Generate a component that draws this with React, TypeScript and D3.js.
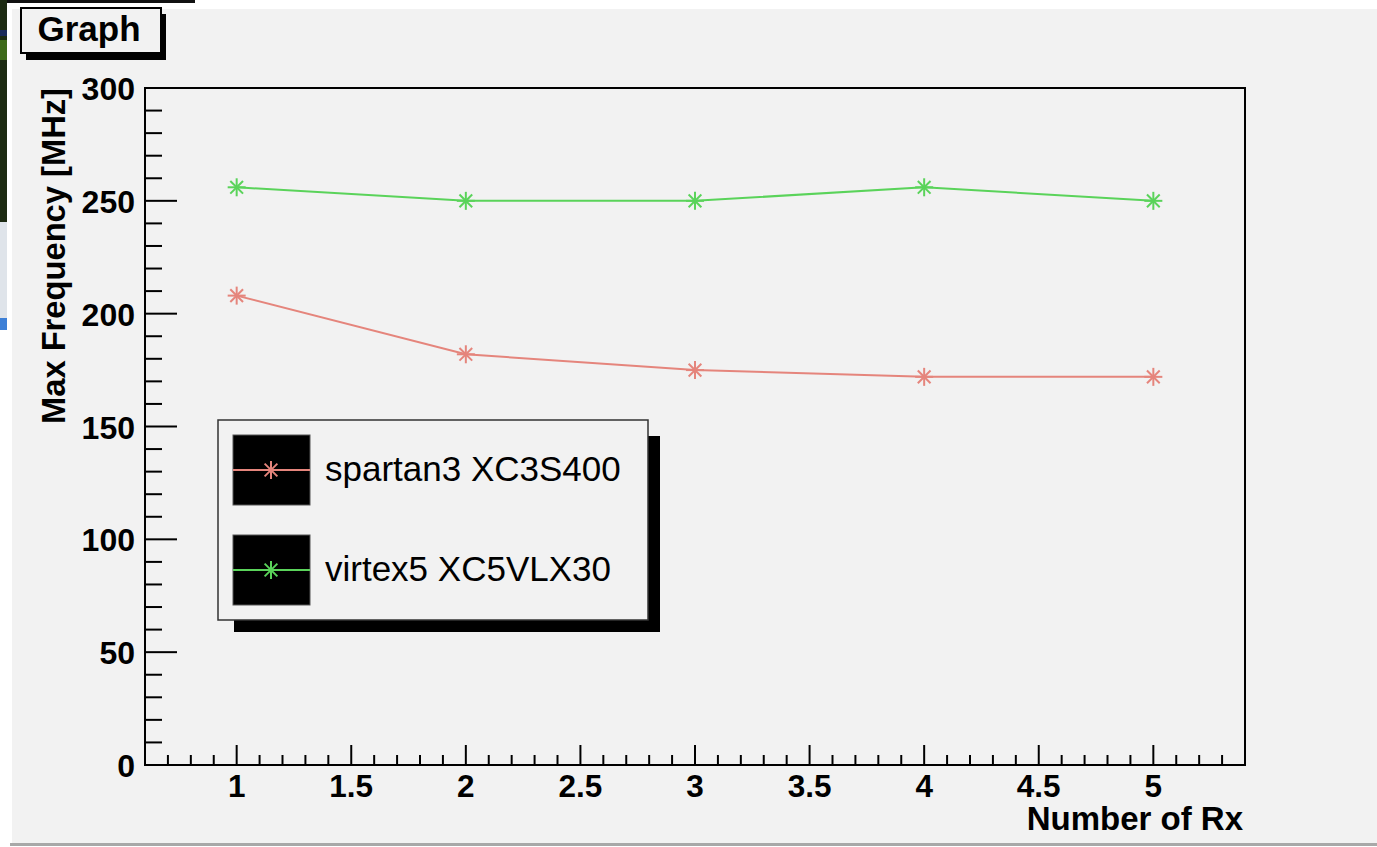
import React from "react";
import * as d3 from "d3";

const rxCounts = [1, 2, 3, 4, 5];
const spartan3 = [208, 182, 175, 172, 172];
const virtex5 = [256, 250, 250, 256, 250];
const xMajorTicks = [1, 1.5, 2, 2.5, 3, 3.5, 4, 4.5, 5];
const yMajorTicks = [0, 50, 100, 150, 200, 250, 300];
const seriesNames = ["spartan3 XC3S400", "virtex5 XC5VLX30"];
const seriesColors = ["#e5857c", "#5ad35a"];

const W = 1377;
const H = 847;
const FONT = "'Liberation Sans', Arial, Helvetica, sans-serif";

function Star({ cx, cy, r, color }: { cx: number; cy: number; r: number; color: string }) {
  const d = r * Math.SQRT1_2;
  return (
    <g stroke={color} strokeWidth={2}>
      <line x1={cx - r} y1={cy} x2={cx + r} y2={cy} />
      <line x1={cx} y1={cy - r} x2={cx} y2={cy + r} />
      <line x1={cx - d} y1={cy - d} x2={cx + d} y2={cy + d} />
      <line x1={cx - d} y1={cy + d} x2={cx + d} y2={cy - d} />
    </g>
  );
}

export default function App() {
  const left = 145, right = 1245, top = 88, bottom = 765;
  const x = d3.scaleLinear().domain([0.6, 5.4]).range([left, right]);
  const y = d3.scaleLinear().domain([0, 300]).range([bottom, top]);

  const xMinor = d3.range(7, 54).map((v) => v / 10).filter((v) => Math.abs(v * 2 - Math.round(v * 2)) > 1e-6);
  const yMinor = d3.range(0, 301, 10).filter((v) => v % 50 !== 0);

  const line = d3
    .line<number>()
    .x((_, i) => x(rxCounts[i]))
    .y((v) => y(v));

  const series = [spartan3, virtex5];

  const lg = { x0: 218, y0: 420, x1: 648, y1: 620 };
  const entryY = [470, 570];

  return (
    <svg
      width={W}
      height={H}
      style={{ position: "absolute", left: 0, top: 0, display: "block" }}
      fontFamily={FONT}
    >
      <rect x={0} y={0} width={W} height={H} fill="#ffffff" />
      {/* screenshot edge artifacts */}
      <rect x={0} y={0} width={195} height={3} fill="#111" />
      <rect x={0} y={0} width={7} height={222} fill="#1c2a12" />
      <rect x={0} y={40} width={7} height={20} fill="#3d6a1a" />
      <rect x={0} y={30} width={7} height={6} fill="#1a2a5a" />
      <rect x={0} y={222} width={7} height={96} fill="#dfe4ea" />
      <rect x={0} y={318} width={7} height={12} fill="#3d7fd6" />
      {/* canvas background */}
      <rect x={12} y={9} width={W - 12} height={835} fill="#f2f2f2" />
      <rect x={10} y={843} width={W - 10} height={3} fill="#a8a8a8" />

      {/* title box */}
      <rect x={26} y={14} width={140} height={46} fill="#000" />
      <rect x={21} y={8} width={140} height={45} fill="#f2f2f2" stroke="#000" strokeWidth={2} />
      <text x={89} y={41} textAnchor="middle" fontWeight="bold" fontSize={35}>
        Graph
      </text>

      {/* series */}
      {series.map((s, si) => (
        <g key={si}>
          <path d={line(s) || ""} fill="none" stroke={seriesColors[si]} strokeWidth={2} />
          {s.map((v, i) => (
            <Star key={i} cx={x(rxCounts[i])} cy={y(v)} r={9} color={seriesColors[si]} />
          ))}
        </g>
      ))}

      {/* frame */}
      <rect x={left} y={top} width={right - left} height={bottom - top} fill="none" stroke="#000" strokeWidth={2} />

      {/* x axis ticks */}
      {xMajorTicks.map((t) => (
        <line key={"xM" + t} x1={x(t)} x2={x(t)} y1={bottom} y2={bottom - 20} stroke="#000" strokeWidth={2} />
      ))}
      {xMinor.map((t) => (
        <line key={"xm" + t} x1={x(t)} x2={x(t)} y1={bottom} y2={bottom - 10} stroke="#000" strokeWidth={2} />
      ))}
      {xMajorTicks.map((t) => (
        <text key={"xl" + t} x={x(t)} y={797} textAnchor="middle" fontWeight="bold" fontSize={31.5}>
          {d3.format("~g")(t)}
        </text>
      ))}
      <text x={1243} y={830} textAnchor="end" fontWeight="bold" fontSize={33}>
        Number of Rx
      </text>

      {/* y axis ticks */}
      {yMajorTicks.map((t) => (
        <line key={"yM" + t} x1={left} x2={left + 32} y1={y(t)} y2={y(t)} stroke="#000" strokeWidth={2} />
      ))}
      {yMinor.map((t) => (
        <line key={"ym" + t} x1={left} x2={left + 17} y1={y(t)} y2={y(t)} stroke="#000" strokeWidth={2} />
      ))}
      {yMajorTicks.map((t) => (
        <text key={"yl" + t} x={135} y={y(t) + 12} textAnchor="end" fontWeight="bold" fontSize={32}>
          {t}
        </text>
      ))}
      <text
        transform="translate(65,88) rotate(-90)"
        textAnchor="end"
        fontWeight="bold"
        fontSize={32.7}
      >
        Max Frequency [MHz]
      </text>

      {/* legend */}
      <rect x={lg.x0 + 16} y={lg.y0 + 16} width={lg.x1 - lg.x0 - 4} height={lg.y1 - lg.y0 - 4} fill="#000" />
      <rect x={lg.x0} y={lg.y0} width={lg.x1 - lg.x0} height={lg.y1 - lg.y0} fill="#f2f2f2" stroke="#333" strokeWidth={1.5} />
      {seriesNames.map((name, i) => (
        <g key={name}>
          <rect x={233} y={entryY[i] - 35} width={77} height={70} fill="#000" stroke="#555" strokeWidth={1} />
          <line x1={233} x2={310} y1={entryY[i]} y2={entryY[i]} stroke={seriesColors[i]} strokeWidth={2} />
          <Star cx={271} cy={entryY[i]} r={9} color={seriesColors[i]} />
          <text x={325} y={entryY[i] + 11} fontSize={35}>
            {name}
          </text>
        </g>
      ))}
    </svg>
  );
}
